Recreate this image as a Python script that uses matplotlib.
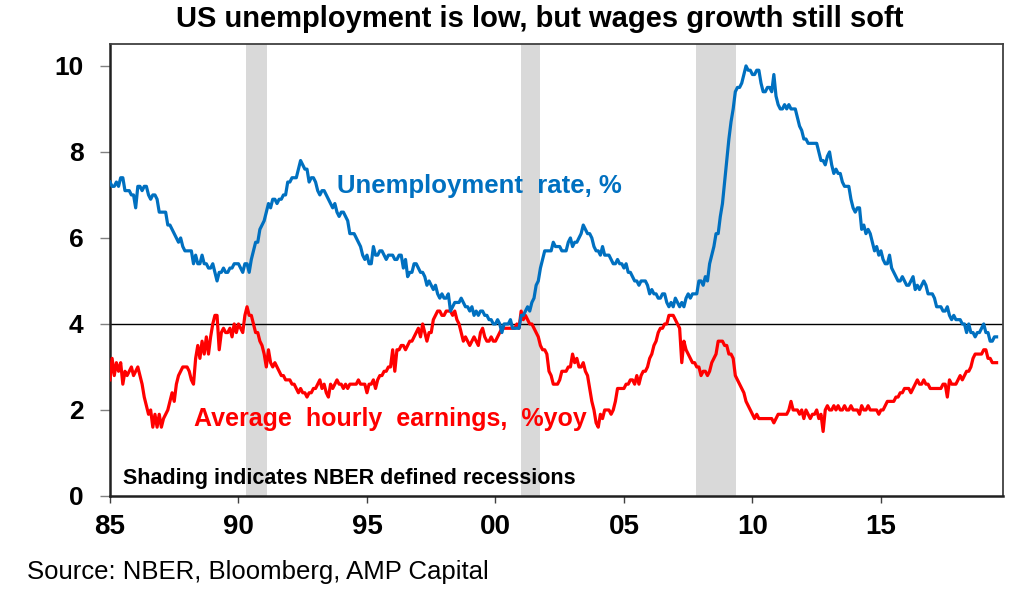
import numpy as np
import matplotlib
matplotlib.use("Agg")
import matplotlib.pyplot as plt

plt.rcParams['font.family'] = ['Liberation Sans', 'DejaVu Sans']

# monthly, Jan 1985 - Jul 2019
unemp = [
    7.3, 7.2, 7.2, 7.3, 7.2, 7.4, 7.4, 7.1, 7.1, 7.1, 7.0, 7.0,
    6.7, 7.2, 7.2, 7.1, 7.2, 7.2, 7.0, 6.9, 7.0, 7.0, 6.9, 6.6,
    6.6, 6.6, 6.6, 6.3, 6.3, 6.2, 6.1, 6.0, 5.9, 6.0, 5.8, 5.7,
    5.7, 5.7, 5.7, 5.4, 5.6, 5.4, 5.4, 5.6, 5.4, 5.4, 5.3, 5.3,
    5.4, 5.2, 5.0, 5.2, 5.2, 5.3, 5.2, 5.2, 5.3, 5.3, 5.4, 5.4,
    5.4, 5.3, 5.2, 5.4, 5.4, 5.2, 5.5, 5.7, 5.9, 5.9, 6.2, 6.3,
    6.4, 6.6, 6.8, 6.7, 6.9, 6.9, 6.8, 6.9, 6.9, 7.0, 7.0, 7.3,
    7.3, 7.4, 7.4, 7.4, 7.6, 7.8, 7.7, 7.6, 7.6, 7.3, 7.4, 7.4,
    7.3, 7.1, 7.0, 7.1, 7.1, 7.0, 6.9, 6.8, 6.7, 6.8, 6.6, 6.5,
    6.6, 6.6, 6.5, 6.4, 6.1, 6.1, 6.1, 6.0, 5.9, 5.8, 5.6, 5.5,
    5.6, 5.4, 5.4, 5.8, 5.6, 5.6, 5.7, 5.7, 5.6, 5.5, 5.6, 5.6,
    5.6, 5.5, 5.5, 5.6, 5.6, 5.3, 5.5, 5.1, 5.2, 5.2, 5.4, 5.4,
    5.3, 5.2, 5.2, 5.1, 4.9, 5.0, 4.9, 4.8, 4.9, 4.7, 4.6, 4.7,
    4.6, 4.6, 4.7, 4.3, 4.4, 4.5, 4.5, 4.5, 4.6, 4.5, 4.4, 4.4,
    4.3, 4.4, 4.2, 4.3, 4.2, 4.3, 4.3, 4.2, 4.2, 4.1, 4.1, 4.0,
    4.0, 4.1, 4.0, 3.8, 4.0, 4.0, 4.0, 4.1, 3.9, 3.9, 3.9, 3.9,
    4.2, 4.2, 4.3, 4.4, 4.3, 4.5, 4.6, 4.9, 5.0, 5.3, 5.5, 5.7,
    5.7, 5.7, 5.7, 5.9, 5.8, 5.8, 5.8, 5.7, 5.7, 5.7, 5.9, 6.0,
    5.8, 5.9, 5.9, 6.0, 6.1, 6.3, 6.2, 6.1, 6.1, 6.0, 5.8, 5.7,
    5.7, 5.6, 5.8, 5.6, 5.6, 5.6, 5.5, 5.4, 5.4, 5.5, 5.4, 5.4,
    5.3, 5.4, 5.2, 5.2, 5.1, 5.0, 5.0, 4.9, 5.0, 5.0, 5.0, 4.9,
    4.7, 4.8, 4.7, 4.7, 4.6, 4.6, 4.7, 4.7, 4.5, 4.4, 4.5, 4.4,
    4.6, 4.5, 4.4, 4.5, 4.4, 4.6, 4.7, 4.6, 4.7, 4.7, 4.7, 5.0,
    5.0, 4.9, 5.1, 5.0, 5.4, 5.6, 5.8, 6.1, 6.1, 6.5, 6.8, 7.3,
    7.8, 8.3, 8.7, 9.0, 9.4, 9.5, 9.5, 9.6, 9.8, 10.0, 9.9, 9.9,
    9.8, 9.8, 9.9, 9.9, 9.6, 9.4, 9.4, 9.5, 9.5, 9.4, 9.8, 9.3,
    9.1, 9.0, 9.0, 9.1, 9.0, 9.1, 9.0, 9.0, 9.0, 8.8, 8.6, 8.5,
    8.3, 8.3, 8.2, 8.2, 8.2, 8.2, 8.2, 8.0, 7.8, 7.8, 7.7, 7.9,
    8.0, 7.7, 7.5, 7.6, 7.5, 7.5, 7.3, 7.2, 7.2, 7.2, 6.9, 6.7,
    6.6, 6.7, 6.7, 6.2, 6.3, 6.1, 6.2, 6.1, 5.9, 5.7, 5.8, 5.6,
    5.7, 5.5, 5.4, 5.4, 5.6, 5.3, 5.2, 5.1, 5.0, 5.0, 5.1, 5.0,
    4.9, 4.9, 5.0, 5.1, 4.8, 4.9, 4.8, 4.9, 5.0, 4.9, 4.7, 4.7,
    4.7, 4.6, 4.4, 4.4, 4.4, 4.3, 4.3, 4.4, 4.2, 4.1, 4.2, 4.1,
    4.1, 4.1, 4.0, 4.0, 3.8, 4.0, 3.8, 3.8, 3.7, 3.8, 3.8, 3.9,
    4.0, 3.8, 3.8, 3.6, 3.6, 3.7, 3.7,
]

ahe = [
    2.7, 3.2, 2.8, 3.1, 2.9, 3.1, 2.6, 2.9, 2.8, 2.9, 3.0, 2.8,
    2.9, 3.0, 2.8, 2.6, 2.3, 2.1, 1.9, 2.0, 1.6, 1.9, 1.6, 1.9,
    1.6, 1.8, 1.9, 2.0, 2.2, 2.4, 2.2, 2.6, 2.8, 2.9, 3.0, 3.0,
    3.0, 2.9, 2.7, 2.6, 3.2, 3.5, 3.2, 3.6, 3.3, 3.7, 3.3, 3.7,
    4.0, 4.2, 4.2, 3.4, 3.8, 3.9, 3.8, 3.8, 3.9, 3.7, 4.0, 3.8,
    4.0, 3.9, 3.8, 4.2, 4.4, 4.2, 4.2, 4.0, 3.8, 3.8, 3.6, 3.5,
    3.3, 3.0, 3.4, 3.1, 3.0, 3.1, 3.0, 2.9, 2.8, 2.8, 2.7, 2.7,
    2.7, 2.6, 2.6, 2.5, 2.4, 2.5, 2.4, 2.4, 2.3, 2.4, 2.4, 2.5,
    2.5, 2.6, 2.7, 2.5, 2.6, 2.4, 2.3, 2.6, 2.5, 2.6, 2.7, 2.6,
    2.6, 2.5, 2.6, 2.5, 2.6, 2.6, 2.6, 2.6, 2.7, 2.6, 2.6, 2.6,
    2.4, 2.6, 2.6, 2.7, 2.5, 2.7, 2.8, 2.8, 2.9, 2.9, 3.0, 3.0,
    3.4, 2.9, 3.4, 3.4, 3.5, 3.5, 3.4, 3.5, 3.6, 3.6, 3.7, 3.8,
    3.9, 3.7, 4.0, 3.8, 3.6, 3.8, 3.8, 4.1, 4.2, 4.3, 4.3, 4.2,
    4.2, 4.3, 4.3, 4.3, 4.2, 4.3, 4.1, 4.0, 3.8, 3.6, 3.7, 3.6,
    3.5, 3.6, 3.7, 3.6, 3.5, 3.8, 3.9, 3.7, 3.6, 3.6, 3.7, 3.6,
    3.6, 3.7, 3.8, 3.9, 3.9, 3.9, 3.9, 3.9, 3.9, 3.9, 4.0, 3.9,
    4.3, 4.1, 4.2, 4.1, 4.0, 4.0, 3.9, 3.8, 3.7, 3.5, 3.4, 3.4,
    3.3, 2.9, 2.8, 2.6, 2.6, 2.6, 2.7, 2.9, 2.9, 2.9, 3.0, 3.0,
    3.3, 3.1, 3.2, 3.0, 3.0, 3.1, 2.9, 2.8, 2.5, 2.2, 2.0, 1.7,
    1.6, 1.9, 1.8, 2.0, 2.0, 2.0, 1.9, 2.0, 2.2, 2.5, 2.5, 2.5,
    2.5, 2.6, 2.6, 2.7, 2.7, 2.6, 2.8, 2.6, 2.8, 2.9, 2.9, 3.0,
    3.2, 3.3, 3.5, 3.6, 3.8, 3.9, 3.9, 4.0, 4.0, 4.2, 4.2, 4.2,
    4.1, 4.0, 3.9, 3.1, 3.6, 3.4, 3.3, 3.2, 3.1, 3.1, 3.0, 3.0,
    2.8, 2.9, 2.9, 2.8, 2.9, 3.1, 3.2, 3.3, 3.6, 3.6, 3.6, 3.5,
    3.5, 3.3, 3.3, 3.2, 2.8, 2.7, 2.6, 2.5, 2.4, 2.2, 2.1, 2.0,
    1.9, 1.8, 1.9, 1.8, 1.8, 1.8, 1.8, 1.8, 1.8, 1.8, 1.7, 1.8,
    1.9, 1.9, 1.9, 1.9, 1.9, 2.0, 2.2, 2.0, 2.0, 2.0, 1.9, 2.0,
    1.8, 2.0, 1.9, 1.8, 1.9, 1.9, 2.0, 1.8, 1.9, 1.5, 2.0, 2.1,
    2.0, 2.0, 2.1, 2.0, 2.1, 2.0, 2.0, 2.1, 2.0, 2.0, 2.1, 2.0,
    2.0, 2.0, 1.9, 2.1, 2.0, 2.0, 2.1, 2.0, 2.0, 2.0, 2.0, 1.9,
    2.0, 2.0, 2.1, 2.2, 2.2, 2.2, 2.2, 2.3, 2.3, 2.4, 2.4, 2.5,
    2.5, 2.5, 2.4, 2.5, 2.6, 2.7, 2.6, 2.6, 2.7, 2.6, 2.6, 2.5,
    2.5, 2.5, 2.5, 2.5, 2.5, 2.6, 2.6, 2.3, 2.7, 2.6, 2.6, 2.6,
    2.7, 2.8, 2.7, 2.8, 2.9, 2.9, 3.0, 3.2, 3.3, 3.3, 3.3, 3.3,
    3.4, 3.4, 3.2, 3.2, 3.1, 3.1, 3.1,
]

rec_start = [1990.3, 2001.0, 2007.8]
rec_end = [1991.1, 2001.75, 2009.35]

xticks = [1985, 1990, 1995, 2000, 2005, 2010, 2015]
xlabels = ['85', '90', '95', '00', '05', '10', '15']
yticks = [0, 2, 4, 6, 8, 10]

blue = '#0070C0'
red = '#FF0000'

t = 1985 + np.arange(len(unemp)) / 12
t2 = 1985 + np.arange(len(ahe)) / 12

fig = plt.figure(figsize=(10.24, 5.96), dpi=100)
ax = fig.add_axes([0.1074, 0.1678, 0.8721, 0.7584])

for s, e in zip(rec_start, rec_end):
    ax.axvspan(s, e, color='#D9D9D9', lw=0, zorder=0)

ax.axhline(4, color='black', lw=1, zorder=1)
ax.plot(t2, ahe, color=red, lw=2.3, zorder=3)
ax.plot(t, unemp, color=blue, lw=2.3, zorder=3)

ax.set_xlim(1985, 2019.75)
ax.set_ylim(0, 10.51)
ax.set_xticks(xticks)
ax.set_xticklabels(xlabels)
ax.set_yticks(yticks)

ax.tick_params(axis='y', length=7, width=1, color='#808080', pad=12,
               labelsize=19)
ax.tick_params(axis='x', length=5, width=1, color='#404040', pad=8,
               labelsize=20)
for lab in ax.get_xticklabels() + ax.get_yticklabels():
    lab.set_fontweight('bold')

for side in ['left', 'bottom']:
    ax.spines[side].set_linewidth(1.8)
    ax.spines[side].set_color('#202020')
for side in ['top', 'right']:
    ax.spines[side].set_linewidth(1.3)
    ax.spines[side].set_color('#404040')

ax.text(1993.83, 7.2, 'Unemployment  rate, %', color=blue, fontsize=18.5,
        fontweight='bold', va='center', ha='left')
ax.text(1988.27, 1.8, 'Average  hourly  earnings,  %yoy', color=red,
        fontsize=18, fontweight='bold', va='center', ha='left')
ax.text(1985.5, 0.4, 'Shading indicates NBER defined recessions',
        color='black', fontsize=15.5, fontweight='bold', va='center',
        ha='left')

fig.text(0.527, 0.968, 'US unemployment is low, but wages growth still soft',
         fontsize=21, fontweight='bold', ha='center', va='center')
fig.text(0.026, 0.04, 'Source: NBER, Bloomberg, AMP Capital', fontsize=18.5,
         ha='left', va='center')

fig.savefig('out.png', dpi=100)
